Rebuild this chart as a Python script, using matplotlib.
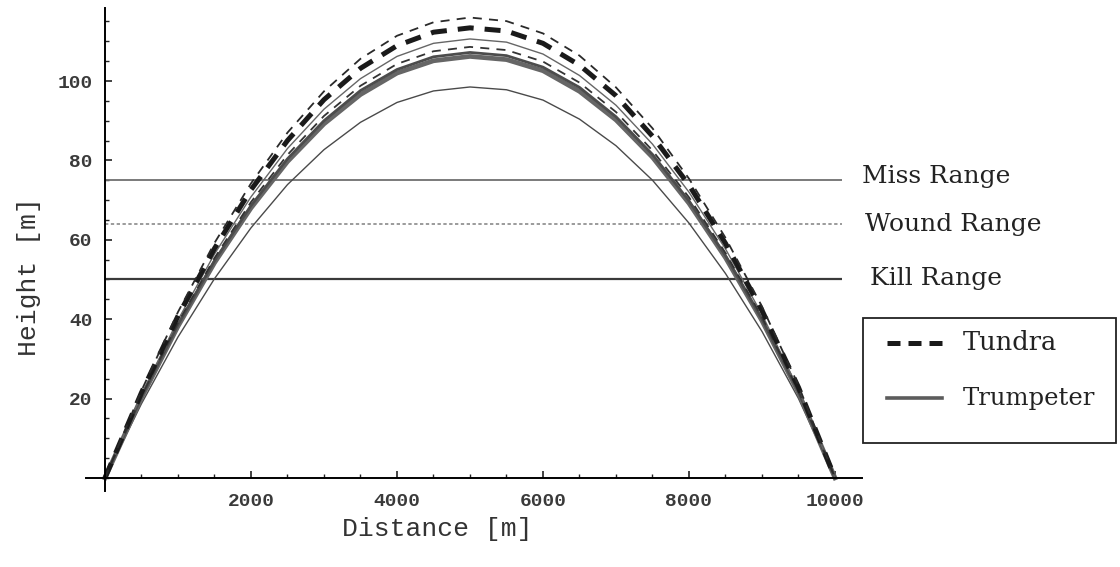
import matplotlib
matplotlib.use('Agg')
from matplotlib import pyplot as plt
from matplotlib.lines import Line2D
from matplotlib.patches import Rectangle
from matplotlib.ticker import MultipleLocator

# distance samples (m)
distance = [0, 500, 1000, 1500, 2000, 2500, 3000, 3500, 4000, 4500, 5000,
            5500, 6000, 6500, 7000, 7500, 8000, 8500, 9000, 9500, 10000]

# Tundra swan trajectories (dashed)
tundra_high = [0, 22.0, 41.8, 59.2, 74.2, 87.0, 97.4, 105.6, 111.4, 114.8, 116.0,
               115.1, 112.0, 106.4, 98.4, 88.1, 75.4, 60.5, 43.2, 23.3, 0]
tundra_mid = [0, 21.5, 40.8, 57.8, 72.6, 85.0, 95.3, 103.2, 108.9, 112.3, 113.4,
              112.6, 109.5, 104.0, 96.3, 86.1, 73.8, 59.1, 42.2, 22.8, 0]
tundra_low = [0, 20.6, 39.1, 55.4, 69.5, 81.4, 91.2, 98.8, 104.3, 107.5, 108.6,
              107.8, 104.9, 99.6, 92.2, 82.5, 70.7, 56.7, 40.5, 21.9, 0]

# Trumpeter swan trajectories (solid)
trump_high = [0, 21.0, 39.8, 56.4, 70.8, 83.0, 92.9, 100.6, 106.2, 109.5, 110.6,
              109.8, 106.8, 101.4, 93.9, 84.1, 72.0, 57.7, 41.2, 22.3, 0]
trump_band1 = [0, 20.4, 38.6, 54.7, 68.6, 80.4, 90.0, 97.6, 102.9, 106.1, 107.2,
               106.4, 103.5, 98.4, 91.0, 81.5, 69.8, 56.0, 40.0, 21.7, 0]
trump_band2 = [0, 20.2, 38.2, 54.2, 68.0, 79.7, 89.2, 96.6, 102.0, 105.1, 106.2,
               105.4, 102.6, 97.4, 90.2, 80.8, 69.2, 55.5, 39.6, 21.5, 0]
trump_low = [0, 18.7, 35.5, 50.2, 63.0, 73.9, 82.7, 89.6, 94.6, 97.5, 98.5,
             97.8, 95.2, 90.4, 83.7, 75.0, 64.2, 51.5, 36.9, 20.0, 0]

range_names = ['Miss Range', 'Wound Range', 'Kill Range']
range_heights = [75, 64, 50]

W, H = 1120, 567
fig = plt.figure(figsize=(W / 100, H / 100), dpi=100)
fig.patch.set_facecolor('white')
ax = fig.add_axes([86 / W, 76 / H, 776 / W, 483 / H])
ax.patch.set_visible(False)

# range lines
ax.hlines(range_heights[0], 0, 10100, color='#6f6f6f', lw=1.3)
ax.hlines(range_heights[1], 0, 10100, color='#8a8a8a', lw=1.2, linestyles=(0, (2, 1.5)))
ax.hlines(range_heights[2], 0, 10100, color='#3a3a3a', lw=1.6)

# trajectories
ax.plot(distance, trump_low, color='#4a4a4a', lw=1.0)
ax.plot(distance, trump_band2, color='#666666', lw=3.4)
ax.plot(distance, trump_band1, color='#4c4c4c', lw=2.0)
ax.plot(distance, trump_high, color='#666666', lw=1.0)
ax.plot(distance, tundra_low, color='#333333', lw=1.3, dashes=(5, 4))
ax.plot(distance, tundra_mid, color='#1a1a1a', lw=3.6, dashes=(3.2, 2.2))
ax.plot(distance, tundra_high, color='#2a2a2a', lw=1.3, dashes=(5, 4))

ax.set_xlim(-260, 10370)
ax.set_ylim(-3.3, 118.4)
for s in ['top', 'right']:
    ax.spines[s].set_visible(False)
ax.spines['left'].set_position(('data', 0))
ax.spines['bottom'].set_position(('data', 0))
ax.spines['left'].set_linewidth(1.4)
ax.spines['bottom'].set_linewidth(1.4)

ax.set_xticks([2000, 4000, 6000, 8000, 10000])
ax.set_yticks([20, 40, 60, 80, 100])
ax.xaxis.set_minor_locator(MultipleLocator(500))
ax.yaxis.set_minor_locator(MultipleLocator(5))
ax.tick_params(which='major', direction='in', length=5, width=1.2, color='#222222')
ax.tick_params(which='minor', direction='in', length=3, width=1.0, color='#222222')
ax.tick_params(axis='x', which='major', pad=11)
ax.tick_params(axis='y', which='major', pad=9)
for lab in ax.get_xticklabels() + ax.get_yticklabels():
    lab.set_family('Liberation Mono')
    lab.set_fontsize(14)
    lab.set_fontweight('bold')
    lab.set_color('#3a3a3a')

# axis titles
fig.text(437 / W, 1 - 529 / H, 'Distance [m]', family='Liberation Mono',
         fontsize=19, color='#333333', ha='center', va='center')
fig.text(29 / W, 1 - 277 / H, 'Height [m]', family='Liberation Mono',
         fontsize=19, color='#333333', ha='center', va='center', rotation=90)

# range labels
label_x = [862, 865, 870]
label_y = [177, 225, 278]
for name, lx, ly in zip(range_names, label_x, label_y):
    fig.text(lx / W, 1 - ly / H, name, family='DejaVu Serif', fontsize=18,
             color='#222222', ha='left', va='center')

# legend box
fig.patches.append(Rectangle((863 / W, 1 - 443 / H), 253 / W, 125 / H,
                             transform=fig.transFigure, fill=False,
                             edgecolor='#222222', lw=1.3))
fig.lines.append(Line2D([887 / W, 942 / W], [1 - 343 / H, 1 - 343 / H],
                        transform=fig.transFigure, color='#1a1a1a', lw=3.6,
                        dashes=(2.6, 1.6)))
fig.lines.append(Line2D([887 / W, 942 / W], [1 - 398 / H, 1 - 398 / H],
                        transform=fig.transFigure, color='#5c5c5c', lw=2.6))
fig.text(963 / W, 1 - 343 / H, 'Tundra', family='DejaVu Serif', fontsize=18.5,
         color='#222222', ha='left', va='center')
fig.text(963 / W, 1 - 398 / H, 'Trumpeter', family='DejaVu Serif', fontsize=17.5,
         color='#222222', ha='left', va='center')

fig.savefig('out.png', dpi=100)
